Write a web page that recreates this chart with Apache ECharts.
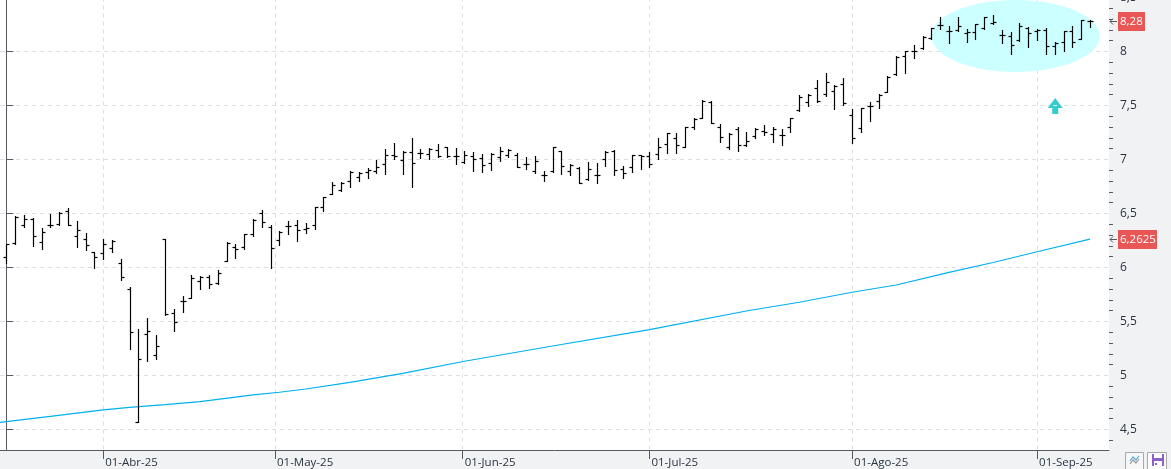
<!DOCTYPE html>
<html>
<head>
<meta charset="utf-8">
<style>html,body{margin:0;padding:0;background:#f1f2f4}#c{width:1171px;height:469px}</style>
<script src="https://cdn.jsdelivr.net/npm/echarts@6/dist/echarts.min.js"></script>
</head>
<body>
<div id="c"></div>
<script>
// Daily OHLC prices, one entry per trading session
const opens = [
6.095,6.224,6.391,6.446,6.233,6.391,6.400,6.521,6.292,6.261,
6.144,6.132,6.178,6.039,5.798,4.565,5.382,5.187,6.261,5.576,
5.687,5.721,5.872,5.909,5.854,6.058,6.187,6.193,6.310,6.502,
6.378,6.252,6.384,6.391,6.357,6.391,6.558,6.681,6.721,6.798,
6.841,6.887,6.896,6.958,7.042,6.996,7.067,7.058,7.051,7.088,
7.113,7.033,6.980,7.033,7.011,6.965,7.021,7.039,7.042,6.958,
6.896,6.857,6.891,7.079,6.891,6.921,6.817,6.854,7.002,7.079,
6.909,6.931,7.039,7.033,7.048,7.144,7.199,7.119,7.298,7.387,
7.533,7.304,7.113,7.280,7.132,7.218,7.267,7.236,7.230,7.298,
7.461,7.530,7.659,7.604,7.634,7.699,7.415,7.289,7.498,7.545,
7.628,7.789,7.958,8.005,8.030,8.128,8.248,8.193,8.199,8.169,
8.178,8.215,8.261,8.153,8.146,8.109,8.215,8.193,8.199,8.048,
8.088,8.193,8.119,8.28];
const highs = [
6.218,6.474,6.486,6.456,6.363,6.496,6.511,6.551,6.431,6.317,
6.144,6.261,6.252,6.076,5.817,5.431,5.530,5.372,6.261,5.613,
5.736,5.928,5.921,5.928,5.977,6.233,6.218,6.310,6.446,6.533,
6.394,6.338,6.431,6.440,6.409,6.558,6.650,6.789,6.789,6.894,
6.887,6.919,6.996,7.095,7.150,7.082,7.196,7.100,7.104,7.141,
7.113,7.104,7.082,7.067,7.051,7.058,7.119,7.095,7.063,7.021,
7.033,6.894,7.119,7.079,6.961,6.933,6.974,6.968,7.082,7.085,
6.937,7.042,7.045,7.072,7.199,7.248,7.248,7.298,7.387,7.551,
7.539,7.326,7.243,7.298,7.255,7.289,7.317,7.298,7.280,7.387,
7.595,7.607,7.736,7.798,7.687,7.752,7.465,7.480,7.535,7.604,
7.771,7.956,8.002,8.060,8.144,8.221,8.317,8.236,8.317,8.208,
8.258,8.320,8.338,8.199,8.178,8.261,8.224,8.208,8.215,8.085,
8.190,8.239,8.292,8.292];
const lows = [
6.045,6.218,6.378,6.199,6.174,6.378,6.391,6.391,6.193,6.162,
5.998,6.082,6.146,5.884,5.248,4.565,5.137,5.156,5.563,5.415,
5.591,5.715,5.801,5.813,5.845,6.058,6.088,6.174,6.295,6.372,
5.998,6.208,6.310,6.248,6.317,6.354,6.526,6.678,6.711,6.748,
6.804,6.832,6.872,6.866,7.008,6.866,6.748,7.014,7.005,7.026,
7.026,6.958,6.965,6.896,6.887,6.903,6.989,7.026,6.933,6.912,
6.872,6.804,6.887,6.866,6.857,6.785,6.813,6.785,6.943,6.859,
6.832,6.887,6.915,6.933,7.005,7.058,7.063,7.113,7.280,7.382,
7.335,7.165,7.100,7.082,7.125,7.196,7.230,7.165,7.137,7.255,
7.452,7.498,7.535,7.588,7.472,7.505,7.156,7.258,7.359,7.480,
7.622,7.780,7.804,7.943,8.026,8.113,8.208,8.082,8.193,8.091,
8.119,8.206,8.252,8.082,7.977,8.095,8.045,8.107,7.977,7.977,
8.005,8.045,8.113,8.224];
const closes = [
6.218,6.471,6.446,6.292,6.326,6.391,6.502,6.391,6.345,6.208,
6.095,6.215,6.248,5.915,5.400,5.150,5.409,5.271,5.567,5.493,
5.693,5.900,5.915,5.845,5.946,6.224,6.169,6.308,6.440,6.424,
6.178,6.332,6.384,6.347,6.363,6.558,6.650,6.764,6.780,6.887,
6.872,6.903,6.933,7.042,7.030,7.072,6.965,7.058,7.100,7.030,
7.030,7.033,7.042,7.002,6.946,7.051,7.079,7.088,6.933,6.958,
6.989,6.857,7.119,6.937,6.952,6.785,6.909,6.854,7.072,6.900,
6.878,7.039,7.033,6.958,7.119,7.243,7.134,7.298,7.375,7.545,
7.335,7.206,7.236,7.137,7.169,7.285,7.252,7.280,7.230,7.382,
7.582,7.597,7.545,7.715,7.683,7.526,7.199,7.477,7.498,7.600,
7.767,7.952,8.002,8.008,8.134,8.215,8.248,8.193,8.236,8.178,
8.252,8.317,8.273,8.153,8.060,8.236,8.169,8.199,8.051,8.082,
8.187,8.085,8.289,8.28];

// Long moving average: session index and level
const averageSessions = [-1,5,11,14,18,22,28,31,34,39,45,52,62,73,84,90,96,101,107,112,117,123];
const averageValues = [4.562,4.622,4.681,4.704,4.730,4.758,4.820,4.845,4.875,4.937,5.019,5.132,5.273,5.424,5.597,5.678,5.771,5.838,5.954,6.046,6.146,6.2625];

// Month boundaries on the session scale
const monthSessions = [11,30.5,51.8,73,96,117];
const monthLabels = ['01-Abr-25','01-May-25','01-Jun-25','01-Jul-25','01-Ago-25','01-Sep-25'];

// Price axis ticks
const priceTicks = [4.5,5,5.5,6,6.5,7,7.5,8,8.5];
const priceMinorTicks = [4.4,4.6,4.7,4.8,4.9,5.1,5.2,5.3,5.4,5.6,5.7,5.8,5.9,6.1,6.2,6.3,6.4,6.6,6.7,6.8,6.9,7.1,7.2,7.3,7.4,7.6,7.7,7.8,7.9,8.1,8.2,8.3,8.4];

// Highlighted consolidation zone, as session and price bounds
const zoneSessions = [105,124.1];
const zonePrices = [7.811,8.477];

// Upward signal marker position
const signalSession = 119;
const signalPrice = 7.5;

// Last-value flags on the price axis
const flagValues = [8.28,6.2625];

const FONT = '"Open Sans", sans-serif';
const TEXT = '#2a3440';
const AXIS = '#555a60';
const GRID = '#dedede';
const X_MIN = -0.715, X_MAX = 125.16, Y_MIN = 4.31, Y_MAX = 8.5;
const comma = v => String(v).replace('.', ',');

const ohlcRows = opens.map((o, i) => [i, o, highs[i], lows[i], closes[i]]);

function renderBar(params, api) {
  const i = api.value(0);
  const x = Math.round(api.coord([i, 0])[0]) + 0.5;
  const sy = v => Math.round(api.coord([i, v])[1]) + 0.5;
  const st = { stroke: '#000', lineWidth: 1.2 };
  return { type: 'group', children: [
    { type: 'line', shape: { x1: x, y1: sy(api.value(2)) - 0.5, x2: x, y2: sy(api.value(3)) + 0.5 }, style: st },
    { type: 'line', shape: { x1: x - 3, y1: sy(api.value(1)), x2: x, y2: sy(api.value(1)) }, style: st },
    { type: 'line', shape: { x1: x, y1: sy(api.value(4)), x2: x + 3, y2: sy(api.value(4)) }, style: st }
  ]};
}

function renderZone(params, api) {
  const a = api.coord([zoneSessions[0], zonePrices[1]]);
  const b = api.coord([zoneSessions[1], zonePrices[0]]);
  return { type: 'ellipse',
    shape: { cx: (a[0] + b[0]) / 2, cy: (a[1] + b[1]) / 2, rx: (b[0] - a[0]) / 2, ry: (b[1] - a[1]) / 2 },
    style: { fill: '#ccffff' } };
}

function renderSignal(params, api) {
  const p = api.coord([api.value(0), api.value(1)]);
  const cx = p[0] + 0.5, cy = p[1];
  return { type: 'group', children: [
    { type: 'polygon', shape: { points: [
        [cx, cy - 7.5], [cx + 7.5, cy + 2.5], [cx + 3, cy + 2.5], [cx + 3, cy + 8.5],
        [cx - 3, cy + 8.5], [cx - 3, cy + 2.5], [cx - 7.5, cy + 2.5]] },
      style: { fill: '#33cccc' } },
    { type: 'line', shape: { x1: cx - 2, y1: cy, x2: cx + 2, y2: cy }, style: { stroke: '#d8f4f4', lineWidth: 1 } }
  ]};
}

function renderFlag(params, api) {
  const v = api.value(0);
  const p = api.coord([X_MAX, v]);
  const axisX = p[0], y = Math.round(p[1]) + 0.5;
  const label = comma(v);
  const w = label.length > 4 ? 39 : 27;
  return { type: 'group', children: [
    { type: 'line', shape: { x1: axisX + 1, y1: y, x2: axisX + 8, y2: y }, style: { stroke: AXIS, lineWidth: 1 } },
    { type: 'polyline', shape: { points: [[axisX + 4, y - 3], [axisX + 1, y], [axisX + 4, y + 3]] }, style: { stroke: AXIS, fill: 'none', lineWidth: 1 } },
    { type: 'rect', shape: { x: axisX + 9, y: y - 9.5, width: w, height: 19 }, style: { fill: '#e85656' } },
    { type: 'text', x: axisX + 11, y: y, style: { text: label, fill: '#fff', font: '11.5px ' + FONT, verticalAlign: 'middle', align: 'left' } }
  ]};
}

const chart = echarts.init(document.getElementById('c'), null, { renderer: 'canvas' });
chart.setOption({
  animation: false,
  backgroundColor: '#f1f2f4',
  textStyle: { fontFamily: FONT },
  grid: { show: true, left: 0, right: 62, top: -2.5, bottom: 19, backgroundColor: '#fff', borderWidth: 0, outerBoundsMode: 'none' },
  xAxis: {
    type: 'value', min: X_MIN, max: X_MAX,
    axisLine: { show: true, onZero: false, lineStyle: { color: AXIS, width: 1 } },
    axisTick: { show: true, length: 9, customValues: monthSessions, lineStyle: { color: AXIS } },
    axisLabel: {
      customValues: monthSessions, align: 'left', margin: 7, padding: [0, 0, 0, 2],
      color: TEXT, fontSize: 11.5, fontFamily: FONT,
      formatter: v => monthLabels[monthSessions.indexOf(v)]
    },
    splitLine: { show: true, lineStyle: { color: GRID, type: [4, 4], width: 1 } }
  },
  yAxis: [
    {
      type: 'value', position: 'right', min: Y_MIN, max: Y_MAX,
      axisLine: { show: true, lineStyle: { color: AXIS, width: 1 } },
      axisTick: { show: true, length: 7, customValues: priceTicks, lineStyle: { color: AXIS } },
      axisLabel: { customValues: priceTicks, margin: 11, color: TEXT, fontSize: 12, fontFamily: FONT, formatter: comma },
      splitLine: { show: true, lineStyle: { color: GRID, type: [4, 4], width: 1 } }
    },
    {
      type: 'value', position: 'right', min: Y_MIN, max: Y_MAX,
      axisLine: { show: false },
      axisTick: { show: true, length: 4, customValues: priceMinorTicks, lineStyle: { color: AXIS } },
      axisLabel: { show: false },
      splitLine: { show: false }
    }
  ],
  series: [
    { type: 'custom', name: 'Zona', z: 1, silent: true, renderItem: renderZone, data: [[zoneSessions[0], zonePrices[0]]], encode: { x: 0, y: 1 } },
    { type: 'line', name: 'Media', z: 2, silent: true, showSymbol: false, clip: true,
      data: averageSessions.map((s, i) => [s, averageValues[i]]),
      lineStyle: { color: '#00b0f0', width: 1.2 } },
    { type: 'custom', name: 'Cotización', z: 3, silent: true, renderItem: renderBar, data: ohlcRows, encode: { x: 0, y: [1, 2, 3, 4] } },
    { type: 'custom', name: 'Señal', z: 4, silent: true, renderItem: renderSignal, data: [[signalSession, signalPrice]], encode: { x: 0, y: 1 } },
    { type: 'custom', name: 'Último', z: 5, silent: true, clip: false, renderItem: renderFlag, data: flagValues.map(v => [v]), encode: { y: 0 } }
  ],
  graphic: [
    // Toolbar buttons in the lower right corner
    { type: 'rect', shape: { x: 1125.5, y: 452.5, width: 18, height: 17 }, style: { fill: '#f7f7f7', stroke: '#a8a8a8', lineWidth: 1 } },
    { type: 'polyline', shape: { points: [[1130, 461], [1133, 457], [1136, 460], [1139, 456]] }, style: { stroke: '#5aa9e0', fill: 'none', lineWidth: 1.2 } },
    { type: 'polyline', shape: { points: [[1130, 464], [1133, 460], [1136, 463], [1139, 459]] }, style: { stroke: '#9a9a9a', fill: 'none', lineWidth: 1.2 } },
    { type: 'rect', shape: { x: 1147.5, y: 452.5, width: 19, height: 17 }, style: { fill: '#fbfbfb', stroke: '#a8a8a8', lineWidth: 1 } },
    { type: 'rect', shape: { x: 1152, y: 454, width: 12, height: 12 }, style: { fill: '#8c62c8' } },
    { type: 'rect', shape: { x: 1154, y: 454, width: 8, height: 4 }, style: { fill: '#ffffff' } },
    { type: 'rect', shape: { x: 1154, y: 461, width: 8, height: 5 }, style: { fill: '#ffffff' } },
    { type: 'rect', shape: { x: 1155, y: 463, width: 2, height: 2 }, style: { fill: '#8c62c8' } }
  ]
});
</script>
</body>
</html>
